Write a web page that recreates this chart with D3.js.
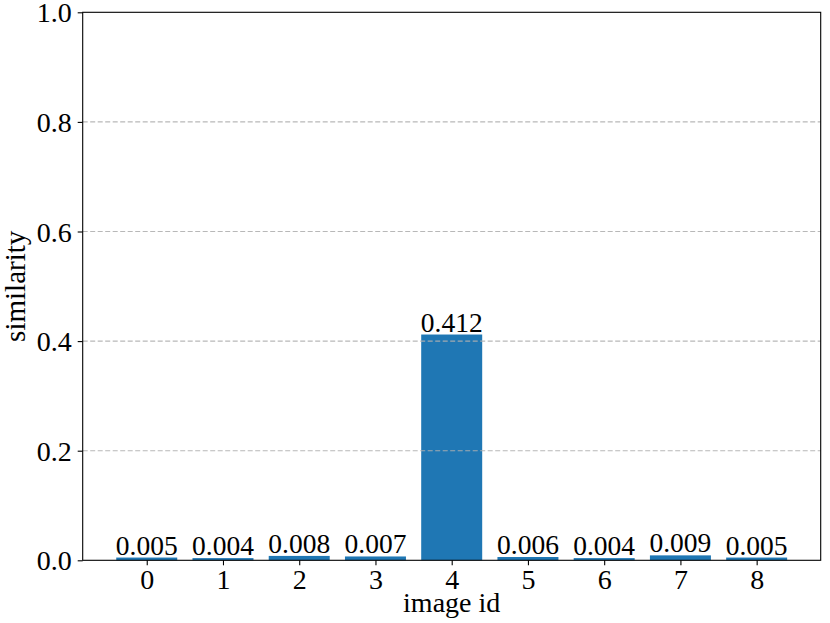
<!DOCTYPE html>
<html>
<head>
<meta charset="utf-8">
<script src="https://cdn.jsdelivr.net/npm/d3@7"></script>
<style>
html,body{margin:0;padding:0;background:#fff;}
svg{display:block;}
text{font-family:"Liberation Serif","Times New Roman",serif;}
</style>
</head>
<body>
<div id="chart"></div>
<script>
const categories = ["0","1","2","3","4","5","6","7","8"];
const values = [0.005,0.004,0.008,0.007,0.412,0.006,0.004,0.009,0.005];
const valueLabels = ["0.005","0.004","0.008","0.007","0.412","0.006","0.004","0.009","0.005"];
const yTicks = [0.0,0.2,0.4,0.6,0.8,1.0];
const gridTicks = [0.2,0.4,0.6,0.8];

const W = 830, H = 623;
const m = {left: 82.7, right: W - 820.7, top: 12.3, bottom: H - 560.3};
const svg = d3.select("#chart").append("svg").attr("width", W).attr("height", H);

const x = d3.scaleLinear().domain([-0.84, 8.84]).range([m.left, W - m.right]);
const y = d3.scaleLinear().domain([0, 1]).range([H - m.bottom, m.top]);
const bw = x(0.8) - x(0);

// bars
svg.append("g").selectAll("rect").data(values).join("rect")
  .attr("x", (d,i) => x(i - 0.4))
  .attr("y", d => y(d))
  .attr("width", bw)
  .attr("height", d => y(0) - y(d))
  .attr("fill", "#1f77b4");

// grid (drawn above bars)
svg.append("g").selectAll("line").data(gridTicks).join("line")
  .attr("x1", m.left).attr("x2", W - m.right)
  .attr("y1", d => y(d)).attr("y2", d => y(d))
  .attr("stroke", "#b0b0b0").attr("stroke-opacity", 0.9)
  .attr("stroke-width", 1.1)
  .attr("stroke-dasharray", "5,2.5");

// value labels
svg.append("g").selectAll("text").data(values).join("text")
  .attr("x", (d,i) => x(i))
  .attr("y", d => y(d) - 3)
  .attr("text-anchor", "middle")
  .attr("font-size", "27.5px")
  .attr("fill", "#000")
  .text((d,i) => valueLabels[i]);

// axes
const xAxis = d3.axisBottom(x).tickValues(d3.range(categories.length))
  .tickFormat(i => categories[i]).tickSizeOuter(0).tickSize(5).tickPadding(4);
const gx = svg.append("g").attr("transform", `translate(0,${y(0)})`).call(xAxis);
gx.select(".domain").remove();
gx.selectAll("text").attr("font-size", "28px").attr("font-family", "Liberation Serif").attr("fill","#000");
gx.selectAll("line").attr("stroke", "#000").attr("stroke-width", 1.1);

const yAxis = d3.axisLeft(y).tickValues(yTicks).tickFormat(d3.format(".1f"))
  .tickSizeOuter(0).tickSize(5).tickPadding(6);
const gy = svg.append("g").attr("transform", `translate(${m.left},0)`).call(yAxis);
gy.select(".domain").remove();
gy.selectAll("text").attr("font-size", "28px").attr("font-family", "Liberation Serif").attr("fill","#000").attr("dy","0.34em");
gy.selectAll("line").attr("stroke", "#000").attr("stroke-width", 1.1);

// frame
svg.append("rect")
  .attr("x", m.left).attr("y", m.top)
  .attr("width", W - m.right - m.left).attr("height", H - m.bottom - m.top)
  .attr("fill", "none").attr("stroke", "#000").attr("stroke-width", 1.1);

// axis labels
svg.append("text")
  .attr("x", (m.left + W - m.right) / 2).attr("y", 612)
  .attr("text-anchor", "middle").attr("font-size", "28px").text("image id");
svg.append("text")
  .attr("transform", `translate(25,${(m.top + H - m.bottom)/2}) rotate(-90)`)
  .attr("text-anchor", "middle").attr("font-size", "29px").text("similarity");
</script>
</body>
</html>
